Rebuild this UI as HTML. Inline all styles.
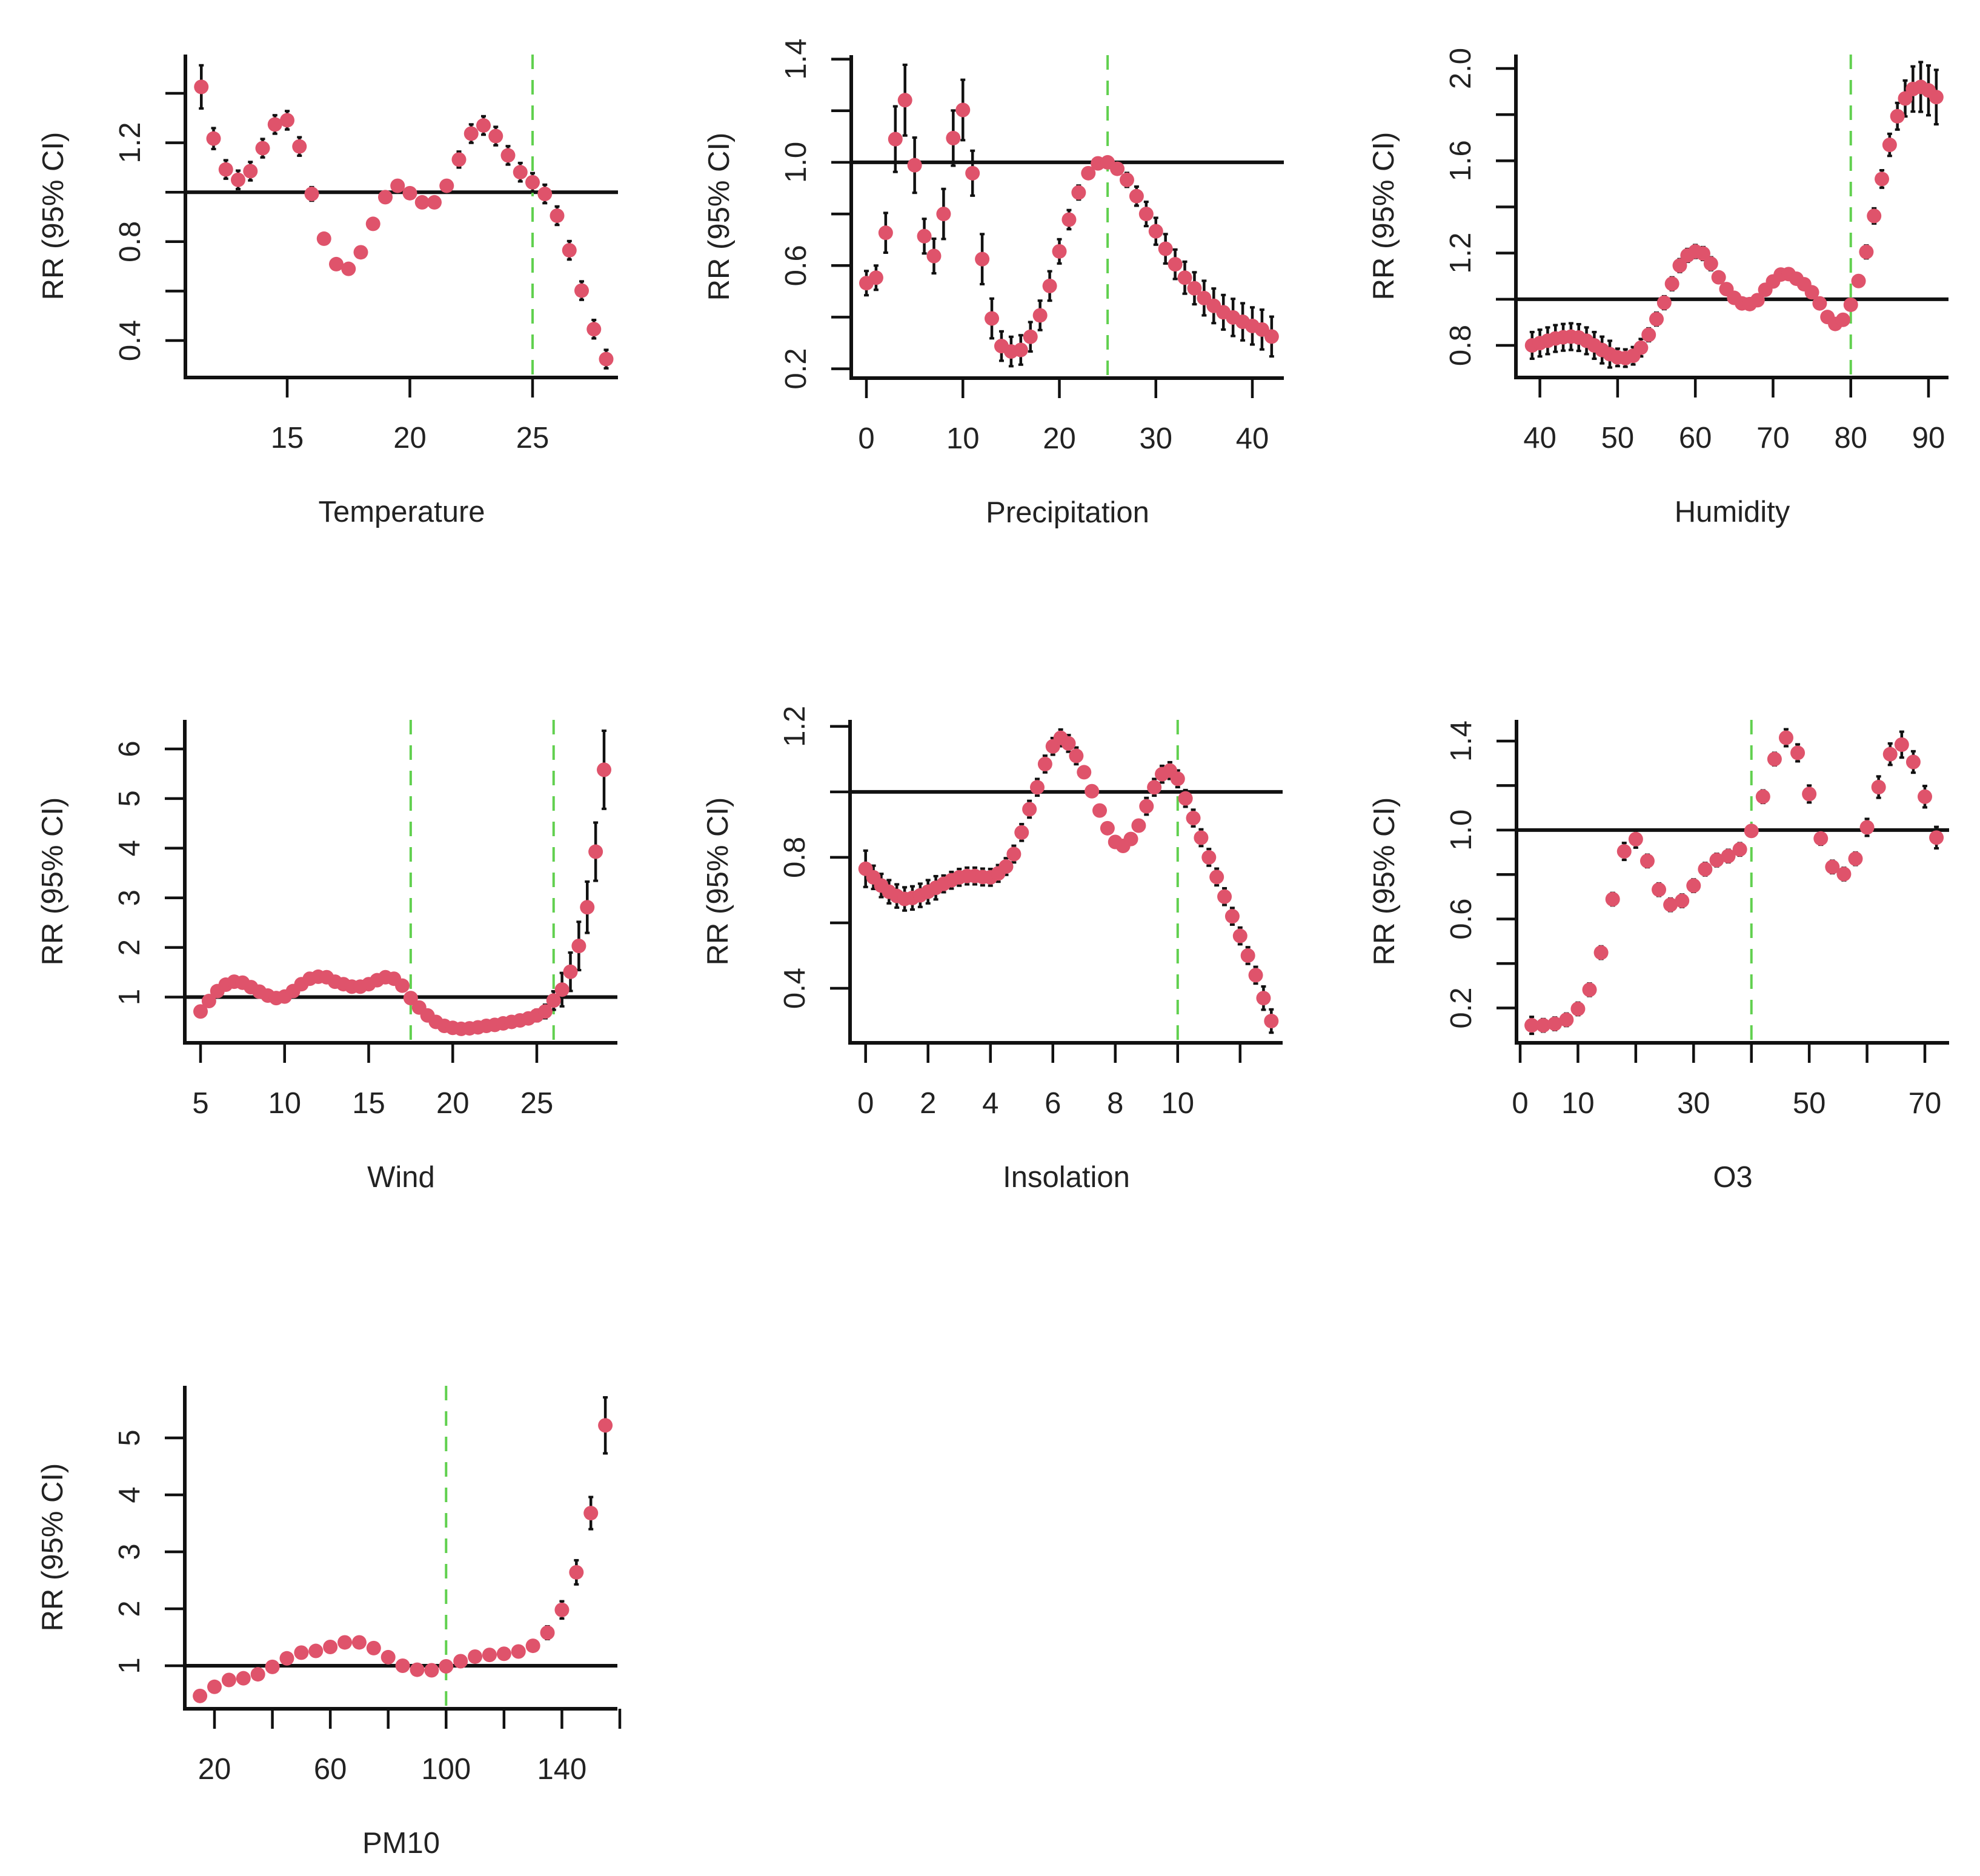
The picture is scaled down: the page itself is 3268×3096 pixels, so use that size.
<!DOCTYPE html>
<html><head><meta charset="utf-8">
<style>
html,body{margin:0;padding:0;background:#fff;}
svg{display:block;}
text{font-family:"Liberation Sans",Arial,sans-serif;fill:#222;}
</style></head>
<body>
<svg id="chart" xmlns="http://www.w3.org/2000/svg" width="3268" height="3096" viewBox="0 0 3268 3096">
<rect x="0" y="0" width="3268" height="3096" fill="#fff"/>
</svg>
<script>
// ---------- data ----------
const tempX = [11.5,12,12.5,13,13.5,14,14.5,15,15.5,16,16.5,17,17.5,18,18.5,19,19.5,20,20.5,21,21.5,22,22.5,23,23.5,24,24.5,25,25.5,26,26.5,27,27.5,28];
const tempRR = [1.426,1.217,1.092,1.05,1.085,1.178,1.274,1.291,1.185,0.993,0.812,0.709,0.69,0.757,0.872,0.98,1.026,0.996,0.959,0.959,1.026,1.132,1.237,1.27,1.227,1.149,1.081,1.04,0.993,0.905,0.765,0.602,0.446,0.325];
const tempCI = [0.08,0.035,0.03,0.03,0.03,0.03,0.03,0.03,0.03,0.02,0.01,0.01,0.01,0.01,0.01,0.01,0.01,0.01,0.01,0.01,0.015,0.025,0.03,0.03,0.03,0.03,0.03,0.03,0.03,0.03,0.03,0.03,0.03,0.03];
const tempXTicks = [15,20,25];
const tempYTicks = [0.4,0.6,0.8,1.0,1.2,1.4];
const tempYLabels = ["0.4","","0.8","","1.2",""];

const precX = [0,1,2,3,4,5,6,7,8,9,10,11,12,13,14,15,16,17,18,19,20,21,22,23,24,25,26,27,28,29,30,31,32,33,34,35,36,37,38,39,40,41,42];
const precRR = [0.532,0.553,0.727,1.09,1.241,0.989,0.714,0.637,0.80,1.094,1.203,0.958,0.625,0.395,0.288,0.267,0.273,0.324,0.407,0.521,0.655,0.778,0.883,0.958,0.996,1.0,0.975,0.932,0.869,0.80,0.733,0.665,0.605,0.553,0.512,0.474,0.444,0.419,0.399,0.382,0.366,0.352,0.325];
const precCI = [0.04,0.04,0.07,0.12,0.13,0.1,0.06,0.06,0.09,0.1,0.11,0.08,0.09,0.07,0.05,0.05,0.05,0.05,0.05,0.05,0.04,0.03,0.02,0.01,0.005,0.005,0.01,0.02,0.03,0.04,0.045,0.05,0.05,0.055,0.055,0.06,0.06,0.06,0.065,0.065,0.065,0.07,0.07];
const precXTicks = [0,10,20,30,40];
const precYTicks = [0.2,0.4,0.6,0.8,1.0,1.2,1.4];
const precYLabels = ["0.2","","0.6","","1.0","","1.4"];

const humX = [39,40,41,42,43,44,45,46,47,48,49,50,51,52,53,54,55,56,57,58,59,60,61,62,63,64,65,66,67,68,69,70,71,72,73,74,75,76,77,78,79,80,81,82,83,84,85,86,87,88,89,90,91];
const humRR = [0.80,0.81,0.82,0.83,0.835,0.838,0.834,0.82,0.80,0.78,0.762,0.748,0.745,0.755,0.79,0.846,0.914,0.985,1.067,1.146,1.19,1.207,1.198,1.154,1.095,1.044,1.006,0.982,0.979,0.996,1.041,1.077,1.107,1.109,1.089,1.065,1.03,0.982,0.923,0.893,0.911,0.976,1.079,1.205,1.361,1.521,1.669,1.793,1.87,1.911,1.92,1.905,1.876];
const humCI = [0.05,0.05,0.05,0.05,0.05,0.05,0.05,0.05,0.05,0.05,0.05,0.03,0.03,0.03,0.03,0.02,0.02,0.02,0.02,0.02,0.02,0.02,0.02,0.02,0.01,0.01,0.01,0.01,0.01,0.01,0.01,0.01,0.01,0.01,0.01,0.01,0.01,0.01,0.01,0.01,0.01,0.01,0.015,0.02,0.025,0.03,0.04,0.05,0.07,0.09,0.1,0.1,0.11];
const humXTicks = [40,50,60,70,80,90];
const humYTicks = [0.8,1.0,1.2,1.4,1.6,1.8,2.0];
const humYLabels = ["0.8","","1.2","","1.6","","2.0"];

const windX = [5,5.5,6,6.5,7,7.5,8,8.5,9,9.5,10,10.5,11,11.5,12,12.5,13,13.5,14,14.5,15,15.5,16,16.5,17,17.5,18,18.5,19,19.5,20,20.5,21,21.5,22,22.5,23,23.5,24,24.5,25,25.5,26,26.5,27,27.5,28,28.5,29];
const windRR = [0.71,0.92,1.12,1.25,1.31,1.29,1.2,1.11,1.03,0.98,1.01,1.12,1.26,1.37,1.41,1.40,1.31,1.26,1.21,1.21,1.26,1.34,1.40,1.37,1.23,0.98,0.79,0.63,0.5,0.42,0.38,0.36,0.37,0.39,0.42,0.44,0.47,0.5,0.53,0.57,0.63,0.71,0.93,1.15,1.51,2.03,2.81,3.93,5.58];
const windCI = [0.03,0.03,0.03,0.03,0.03,0.03,0.03,0.03,0.03,0.03,0.03,0.03,0.03,0.03,0.03,0.03,0.03,0.03,0.03,0.03,0.03,0.03,0.03,0.03,0.03,0.03,0.03,0.03,0.03,0.03,0.03,0.03,0.03,0.04,0.04,0.05,0.05,0.06,0.06,0.07,0.08,0.1,0.15,0.3,0.35,0.45,0.48,0.55,0.75];
const windXTicks = [5,10,15,20,25];
const windYTicks = [1,2,3,4,5,6];
const windYLabels = ["1","2","3","4","5","6"];

const insX = [0,0.25,0.5,0.75,1,1.25,1.5,1.75,2,2.25,2.5,2.75,3,3.25,3.5,3.75,4,4.25,4.5,4.75,5,5.25,5.5,5.75,6,6.25,6.5,6.75,7,7.25,7.5,7.75,8,8.25,8.5,8.75,9,9.25,9.5,9.75,10,10.25,10.5,10.75,11,11.25,11.5,11.75,12,12.25,12.5,12.75,13];
const insRR = [0.765,0.739,0.714,0.695,0.682,0.673,0.676,0.684,0.695,0.707,0.719,0.73,0.739,0.743,0.743,0.74,0.739,0.751,0.772,0.81,0.876,0.947,1.014,1.085,1.139,1.165,1.148,1.11,1.06,1.002,0.943,0.889,0.847,0.835,0.856,0.897,0.956,1.014,1.054,1.065,1.04,0.98,0.92,0.86,0.80,0.74,0.68,0.62,0.56,0.50,0.44,0.37,0.30];
const insCI = [0.05,0.03,0.03,0.03,0.03,0.03,0.03,0.03,0.03,0.03,0.02,0.02,0.02,0.02,0.02,0.02,0.02,0.02,0.02,0.02,0.02,0.02,0.02,0.02,0.02,0.02,0.02,0.02,0.01,0.01,0.01,0.01,0.01,0.01,0.01,0.01,0.02,0.02,0.02,0.02,0.02,0.02,0.02,0.02,0.02,0.02,0.02,0.02,0.02,0.02,0.02,0.03,0.03];
const insXTicks = [0,2,4,6,8,10,12];
const insXLabels = ["0","2","4","6","8","10",""];
const insYTicks = [0.4,0.6,0.8,1.0,1.2];
const insYLabels = ["0.4","","0.8","","1.2"];

const o3X = [2,4,6,8,10,12,14,16,18,20,22,24,26,28,30,32,34,36,38,40,42,44,46,48,50,52,54,56,58,60,62,64,66,68,70,72];
const o3RR = [0.122,0.122,0.129,0.147,0.196,0.282,0.449,0.689,0.904,0.959,0.861,0.732,0.664,0.682,0.75,0.824,0.865,0.883,0.913,0.996,1.15,1.319,1.415,1.347,1.162,0.962,0.834,0.802,0.871,1.012,1.193,1.341,1.384,1.306,1.15,0.966];
const o3CI = [0.03,0.02,0.02,0.02,0.02,0.02,0.02,0.02,0.03,0.03,0.02,0.02,0.02,0.02,0.02,0.02,0.02,0.02,0.02,0.01,0.02,0.02,0.03,0.03,0.03,0.02,0.02,0.02,0.02,0.03,0.04,0.04,0.05,0.04,0.04,0.04];
const o3XTicks = [0,10,20,30,40,50,60,70];
const o3XLabels = ["0","10","","30","","50","","70"];
const o3YTicks = [0.2,0.4,0.6,0.8,1.0,1.2,1.4];
const o3YLabels = ["0.2","","0.6","","1.0","","1.4"];

const pmX = [15,20,25,30,35,40,45,50,55,60,65,70,75,80,85,90,95,100,105,110,115,120,125,130,135,140,145,150,155];
const pmRR = [0.47,0.63,0.75,0.78,0.85,0.98,1.13,1.23,1.26,1.33,1.41,1.41,1.31,1.15,1.0,0.93,0.92,0.99,1.08,1.16,1.19,1.21,1.25,1.35,1.58,1.98,2.64,3.68,5.22];
const pmCI = [0.01,0.01,0.01,0.01,0.01,0.01,0.01,0.01,0.01,0.01,0.01,0.01,0.01,0.01,0.01,0.01,0.01,0.01,0.01,0.01,0.02,0.02,0.03,0.05,0.08,0.12,0.18,0.25,0.46];
const pmXTicks = [20,40,60,80,100,120,140,160];
const pmXLabels = ["20","","60","","100","","140",""];
const pmYTicks = [1,2,3,4,5];
const pmYLabels = ["1","2","3","4","5"];

// ---------- drawing ----------
const NS = "http://www.w3.org/2000/svg";
const svg = document.getElementById("chart");
function mk(tag, attrs, parent){
  const e = document.createElementNS(NS, tag);
  for (const k in attrs) e.setAttribute(k, attrs[k]);
  (parent||svg).appendChild(e);
  return e;
}
const RED = "#DF536B", GREEN = "#61D04F";

function panel(key, title, X, Y, CI, xTicks, xLabels, yTicks, yLabels, refs, g){
  const grp = mk("g", {});
  
  
  const ax = g.ax, ab = g.ab, top = ab - 533, right = ax + 714;
  const sx = v => g.xp[0] + (v - g.xv[0]) * (g.xp[1]-g.xp[0])/(g.xv[1]-g.xv[0]);
  const sy = v => g.yp[0] + (v - g.yv[0]) * (g.yp[1]-g.yp[0])/(g.yv[1]-g.yv[0]);

  const ref = mk("line", {x1:ax, x2:right, y1:sy(1), y2:sy(1), stroke:"#111", "stroke-width":6}, grp);
  
  
  refs.forEach(r => {
    const d = mk("line", {x1:sx(r), x2:sx(r), y1:top, y2:ab, stroke:GREEN, "stroke-width":4, "stroke-dasharray":"24 18"}, grp);
    
    
  });
  const ya = mk("line", {x1:ax, x2:ax, y1:top, y2:ab+3, stroke:"#111", "stroke-width":6}, grp);
  
  
  const xa = mk("line", {x1:ax-3, x2:right, y1:ab, y2:ab, stroke:"#111", "stroke-width":6}, grp);
  
  
  xTicks.forEach((t,i) => {
    const x = sx(t);
    const tk = mk("line", {x1:x, x2:x, y1:ab, y2:ab+33, stroke:"#111", "stroke-width":4.5}, grp);
    
    
    const lab = xLabels ? xLabels[i] : String(t);
    if (lab) {
      const tx = mk("text", {x:x, y:ab+116, "font-size":49, "text-anchor":"middle"}, grp);
      tx.textContent = lab;
      
      
    }
  });
  yTicks.forEach((t,i) => {
    const y = sy(t);
    const tk = mk("line", {x1:ax-33, x2:ax, y1:y, y2:y, stroke:"#111", "stroke-width":4.5}, grp);
    
    
    const lab = yLabels[i];
    if (lab) {
      const tx = mk("text", {x:0, y:0, "font-size":49, "text-anchor":"middle", transform:`translate(${ax-75},${y}) rotate(-90)`}, grp);
      tx.textContent = lab;
      
      
    }
  });
  const yt = mk("text", {x:0, y:0, "font-size":49, "text-anchor":"middle", transform:`translate(${ax-202},${(top+ab)/2}) rotate(-90)`}, grp);
  yt.textContent = "RR (95% CI)";
  
  
  const xt = mk("text", {x:(ax+right)/2, y:ab+238, "font-size":49, "text-anchor":"middle"}, grp);
  xt.textContent = title;
  
  
  X.forEach((v,i) => {
    const x = sx(v), y1 = sy(Y[i]+CI[i]), y2 = sy(Y[i]-CI[i]);
    const eb = mk("g", {}, grp);
    
    
    mk("line", {x1:x, x2:x, y1:y1-4, y2:y2+4, stroke:"#111", "stroke-width":4.5}, eb);
    mk("line", {x1:x-4, x2:x+4, y1:y1-3, y2:y1-3, stroke:"#111", "stroke-width":4}, eb);
    mk("line", {x1:x-4, x2:x+4, y1:y2+3, y2:y2+3, stroke:"#111", "stroke-width":4}, eb);
  });
  X.forEach((v,i) => {
    const c = mk("circle", {cx:sx(v), cy:sy(Y[i]), r:12, fill:RED}, grp);
    
    
  });
}

panel("temperature","Temperature", tempX,tempRR,tempCI, tempXTicks,null, tempYTicks,tempYLabels, [25],
  {ax:306, ab:623, xv:[15,25], xp:[474,879], yv:[1.4,0.4], yp:[154,562]});
panel("precipitation","Precipitation", precX,precRR,precCI, precXTicks,null, precYTicks,precYLabels, [25],
  {ax:1405, ab:624, xv:[0,40], xp:[1430,2067], yv:[1.4,0.2], yp:[97.6,608.6]});
panel("humidity","Humidity", humX,humRR,humCI, humXTicks,null, humYTicks,humYLabels, [80],
  {ax:2502, ab:623, xv:[40,90], xp:[2541.6,3183], yv:[2.0,0.8], yp:[113,570]});
panel("wind","Wind", windX,windRR,windCI, windXTicks,null, windYTicks,windYLabels, [17.5,26],
  {ax:305, ab:1721, xv:[5,25], xp:[331,886], yv:[6,1], yp:[1236,1645.5]});
panel("insolation","Insolation", insX,insRR,insCI, insXTicks,insXLabels, insYTicks,insYLabels, [10],
  {ax:1403, ab:1721, xv:[0,12], xp:[1428.7,2046.8], yv:[1.2,0.4], yp:[1198.8,1631]});
panel("o3","O3", o3X,o3RR,o3CI, o3XTicks,o3XLabels, o3YTicks,o3YLabels, [40],
  {ax:2503, ab:1721, xv:[0,70], xp:[2509,3177], yv:[1.4,0.2], yp:[1223,1663.5]});
panel("pm10","PM10", pmX,pmRR,pmCI, pmXTicks,pmXLabels, pmYTicks,pmYLabels, [100],
  {ax:305, ab:2820, xv:[20,160], xp:[354,1023], yv:[5,1], yp:[2373,2749]});
</script>
</body></html>
